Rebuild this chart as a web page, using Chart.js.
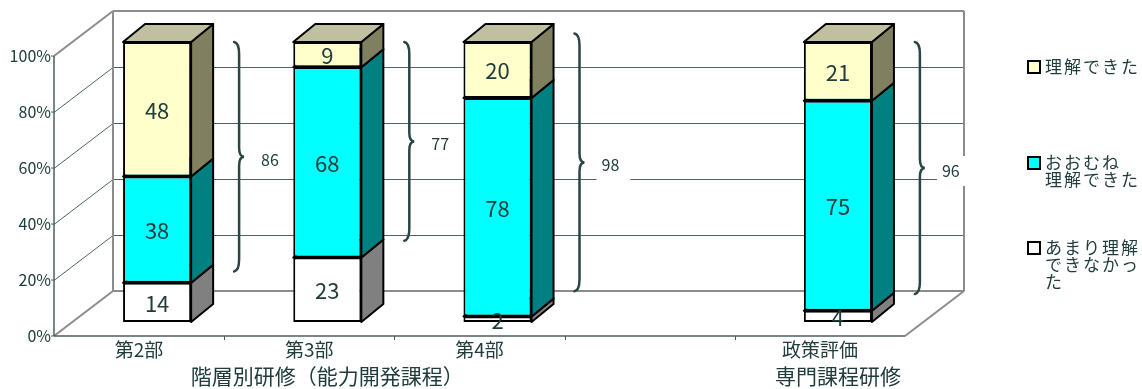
<!DOCTYPE html>
<html lang="ja">
<head>
<meta charset="utf-8">
<script src="https://cdn.jsdelivr.net/npm/chart.js@4.4.1/dist/chart.umd.min.js"></script>
<style>
  html, body { margin: 0; padding: 0; background: #fff; }
  canvas { display: block; }
</style>
</head>
<body>
<canvas id="chart" width="1142" height="389"></canvas>
<script>
// data
const categories = ['第2部', '第3部', '第4部', '', '政策評価'];
const groupLabels = ['', '階層別研修（能力開発課程）', '', '', '専門課程研修'];
const seriesNames = ['あまり理解できなかった', 'おおむね理解できた', '理解できた'];
const legendLines = [['あまり理解', 'できなかっ', 'た'], ['おおむね', '理解できた'], ['理解できた']];
const notUnderstood = [14, 23, 2, null, 4];
const mostlyUnderstood = [38, 68, 78, null, 75];
const understood = [48, 9, 20, null, 21];
// braces to the right of each bar: total and the span they cover (in %)
const braceTotals = [86, 77, 98, null, 96];
const braceFrom = [18, 29, 11, null, 10];
const braceTo = [100, 100, 103, null, 100];
const yTicks = [0, 20, 40, 60, 80, 100];

const INK = '#203c3c';
const JP = '"Noto Sans CJK JP", "Noto Sans", sans-serif';
const frontColors = ['#ffffff', '#00ffff', '#ffffcc'];
const sideColors = ['#808080', '#008080', '#808060'];
const topColors = ['#c0c0c0', '#00c0c0', '#c0c0a0'];

// 3d offsets relative to the plane the bars stand in
const BACK = { dx: 41, dy: -31 };
const FRONT = { dx: -18, dy: 14 };
const DEPTH = { dx: 22, dy: -18 };

function line(ctx, x1, y1, x2, y2) {
    ctx.beginPath();
    ctx.moveTo(x1, y1);
    ctx.lineTo(x2, y2);
    ctx.stroke();
}

function poly(ctx, pts, fill) {
    ctx.beginPath();
    ctx.moveTo(pts[0][0], pts[0][1]);
    for (let k = 1; k < pts.length; k++) ctx.lineTo(pts[k][0], pts[k][1]);
    ctx.closePath();
    ctx.fillStyle = fill;
    ctx.fill();
    ctx.stroke();
}

const box3d = {
    id: 'box3d',
    beforeDatasetsDraw(chart) {
        const { ctx, chartArea: a, scales: { x, y } } = chart;
        const y0 = y.getPixelForValue(0), y100 = y.getPixelForValue(100);
        const bl = a.left + BACK.dx, br = a.right + BACK.dx;
        const fl = a.left + FRONT.dx, fr = a.right + FRONT.dx;
        ctx.save();

        // gridlines on back wall and left wall
        ctx.lineWidth = 1;
        ctx.strokeStyle = '#4b6462';
        yTicks.forEach(v => {
            if (v === 0 || v === 100) return;
            const py = Math.round(y.getPixelForValue(v)) + 0.5;
            line(ctx, bl, py + BACK.dy, br, py + BACK.dy);
            line(ctx, fl, py + FRONT.dy, bl, py + BACK.dy);
        });

        // frame edges
        ctx.lineWidth = 2;
        ctx.strokeStyle = '#8c8c8c';
        line(ctx, bl, y100 + BACK.dy, br, y100 + BACK.dy);
        line(ctx, bl, y0 + BACK.dy, br, y0 + BACK.dy);
        line(ctx, bl, y100 + BACK.dy, bl, y0 + BACK.dy);
        line(ctx, br, y100 + BACK.dy, br, y0 + BACK.dy);
        line(ctx, fl, y100 + FRONT.dy, bl, y100 + BACK.dy);
        line(ctx, fl, y0 + FRONT.dy, bl, y0 + BACK.dy);
        line(ctx, fr, y0 + FRONT.dy, br, y0 + BACK.dy);

        // front axis lines and ticks
        ctx.strokeStyle = '#4a5e5e';
        ctx.lineWidth = 1.5;
        line(ctx, fl, y100 + FRONT.dy, fl, y0 + FRONT.dy);
        line(ctx, fl, y0 + FRONT.dy, fr, y0 + FRONT.dy);
        ctx.lineWidth = 1;
        yTicks.forEach(v => {
            const py = y.getPixelForValue(v) + FRONT.dy;
            line(ctx, fl - 3, py, fl, py);
        });
        const step = (a.right - a.left) / categories.length;
        for (let k = 1; k < categories.length; k++) {
            const px = Math.round(a.left + k * step + FRONT.dx) + 0.5;
            line(ctx, px, y0 + FRONT.dy, px, y0 + FRONT.dy + 4);
        }

        // side and top faces of the bars, bottom segment first
        ctx.lineWidth = 2;
        ctx.lineJoin = 'round';
        ctx.strokeStyle = '#000';
        chart.data.datasets.forEach((ds, di) => {
            const meta = chart.getDatasetMeta(di);
            meta.data.forEach((el, i) => {
                if (ds.data[i] == null) return;
                const p = el.getProps(['x', 'y', 'base', 'width'], true);
                const L = p.x - p.width / 2, R = p.x + p.width / 2;
                poly(ctx, [[R, p.y], [R + DEPTH.dx, p.y + DEPTH.dy],
                    [R + DEPTH.dx, p.base + DEPTH.dy], [R, p.base]], sideColors[di]);
                poly(ctx, [[L, p.y], [R, p.y], [R + DEPTH.dx, p.y + DEPTH.dy],
                    [L + DEPTH.dx, p.y + DEPTH.dy]], topColors[di]);
            });
        });
        ctx.restore();
    },
    afterDatasetsDraw(chart) {
        const { ctx, scales: { x, y } } = chart;
        ctx.save();
        // value labels
        ctx.fillStyle = INK;
        ctx.font = '22px ' + JP;
        ctx.textAlign = 'center';
        ctx.textBaseline = 'middle';
        chart.data.datasets.forEach((ds, di) => {
            chart.getDatasetMeta(di).data.forEach((el, i) => {
                if (ds.data[i] == null) return;
                const p = el.getProps(['x', 'y', 'base'], true);
                ctx.fillText(String(ds.data[i]), p.x, (p.y + p.base) / 2 + 1);
            });
        });

        // braces with totals
        ctx.strokeStyle = '#2a4545';
        ctx.lineWidth = 2.5;
        ctx.lineCap = 'round';
        ctx.font = '16px ' + JP;
        ctx.textAlign = 'left';
        braceTotals.forEach((tot, i) => {
            if (tot == null) return;
            const x0 = x.getPixelForValue(i) + 77;
            const y1 = y.getPixelForValue(braceTo[i]);
            const y2 = y.getPixelForValue(braceFrom[i]);
            const mid = (y1 + y2) / 2;
            ctx.beginPath();
            ctx.moveTo(x0, y1);
            ctx.quadraticCurveTo(x0 + 5, y1 + 1, x0 + 5, y1 + 12);
            ctx.lineTo(x0 + 5, mid - 9);
            ctx.quadraticCurveTo(x0 + 5, mid, x0 + 10, mid);
            ctx.quadraticCurveTo(x0 + 5, mid, x0 + 5, mid + 9);
            ctx.lineTo(x0 + 5, y2 - 12);
            ctx.quadraticCurveTo(x0 + 5, y2 - 1, x0, y2);
            ctx.stroke();

            const tx = x0 + 27, ty = mid + 3;
            const w = ctx.measureText(String(tot)).width;
            ctx.fillStyle = '#fff';
            ctx.fillRect(tx - 5, ty - 15, w + 16, 30);
            ctx.fillStyle = INK;
            ctx.fillText(String(tot), tx, ty);
        });
        ctx.restore();
    },
    afterDraw(chart) {
        const { ctx } = chart;
        const firstLineY = [248, 163, 67];
        ctx.save();
        ctx.font = '17px ' + JP;
        ctx.letterSpacing = '2px';
        ctx.textAlign = 'left';
        ctx.textBaseline = 'middle';
        chart.data.datasets.forEach((ds, di) => {
            const cy = firstLineY[di];
            ctx.fillStyle = frontColors[di];
            ctx.fillRect(1028, cy - 6, 12, 12);
            ctx.strokeStyle = '#000';
            ctx.lineWidth = 2;
            ctx.strokeRect(1028, cy - 6, 12, 12);
            ctx.fillStyle = INK;
            legendLines[di].forEach((t, k) => ctx.fillText(t, 1045, cy + k * 17));
        });
        ctx.restore();
    }
};

const seriesData = [notUnderstood, mostlyUnderstood, understood];

new Chart('chart', {
    type: 'bar',
    data: {
        labels: categories,
        datasets: seriesData.map((d, di) => ({
            label: seriesNames[di],
            data: d,
            backgroundColor: frontColors[di],
            borderColor: '#000',
            borderWidth: 2,
            borderSkipped: false,
            barPercentage: 0.4,
            categoryPercentage: 1
        }))
    },
    options: {
        responsive: false,
        animation: false,
        devicePixelRatio: 1,
        layout: { padding: { left: 0, top: 42, right: 219, bottom: 0 } },
        plugins: { legend: { display: false }, tooltip: { enabled: false } },
        scales: {
            x: {
                stacked: true,
                weight: 0,
                grid: { display: false, drawTicks: false },
                border: { display: false },
                ticks: {
                    color: INK, font: { family: JP, size: 19 }, padding: 16,
                    labelOffset: FRONT.dx, autoSkip: false, maxRotation: 0
                },
                afterFit(s) { s.height = 38; }
            },
            x2: {
                type: 'category',
                position: 'bottom',
                labels: groupLabels,
                weight: 1,
                grid: { display: false, drawTicks: false },
                border: { display: false },
                ticks: {
                    color: INK, font: { family: JP, size: 21 }, padding: 3,
                    autoSkip: false, maxRotation: 0
                },
                afterFit(s) { s.height = 29; }
            },
            y: {
                stacked: true,
                min: 0,
                max: 100,
                grid: { display: false, drawTicks: false },
                border: { display: false },
                ticks: {
                    stepSize: 20, color: INK, font: { family: JP, size: 16 },
                    padding: 21, labelOffset: FRONT.dy,
                    callback: v => v + '%'
                },
                afterFit(s) { s.width = 72; }
            }
        }
    },
    plugins: [box3d]
});
</script>
</body>
</html>
